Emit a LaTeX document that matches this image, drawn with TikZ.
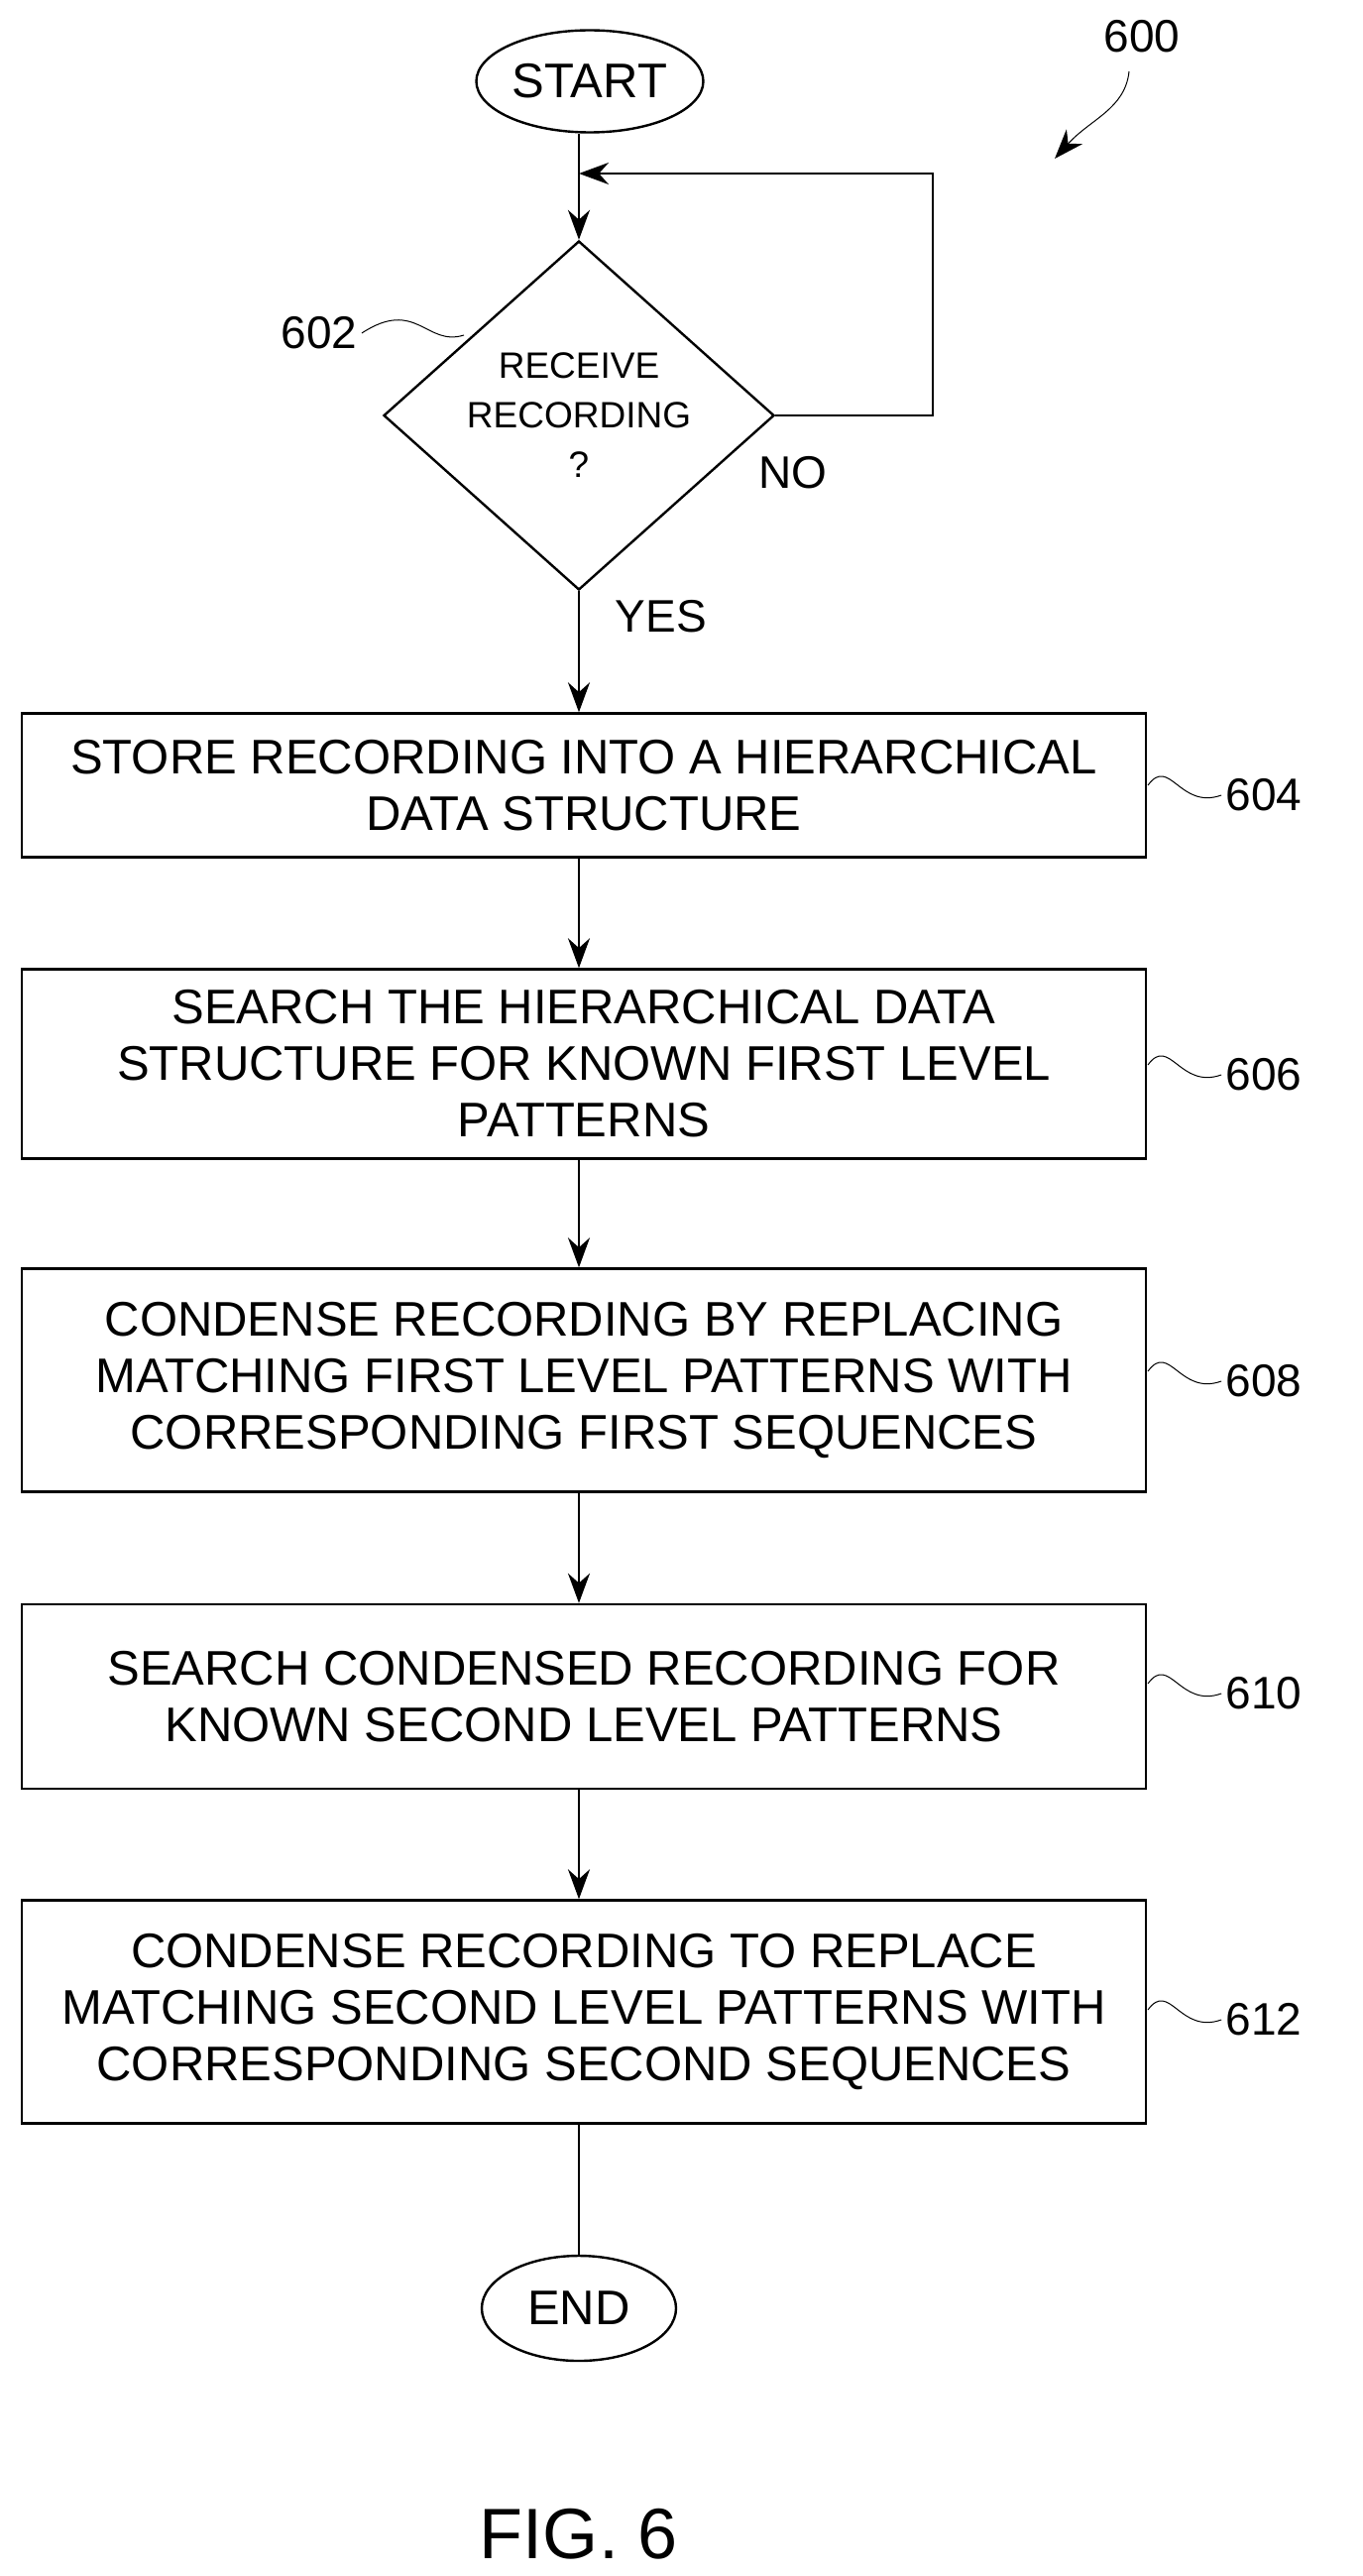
\documentclass[tikz,border=0pt]{standalone}
\usepackage{fontspec}
\setmainfont{Liberation Sans}
\usetikzlibrary{shapes.geometric,arrows.meta}
\begin{document}
\begin{tikzpicture}[x=1pt,y=-1pt,
  line width=2.4pt,
  txt/.style={font=\fontsize{49}{57}\selectfont},
  box/.style={draw,minimum width=1134pt,align=center,txt,inner sep=0pt},
  term/.style={draw,ellipse,txt,inner sep=0pt},
  arr/.style={-{Stealth[length=30pt,width=22pt]}},
  lab/.style={font=\fontsize{46}{56}\selectfont},
  sq/.style={line width=1pt}]
\useasboundingbox (0,0) rectangle (1375,2598);
\node[term,minimum width=229pt,minimum height=103pt] (start) at (595,82) {START};
\node[draw,diamond,minimum width=394pt,minimum height=352pt,align=center,inner sep=0pt,
  font=\fontsize{37}{50}\selectfont] (d) at (584,419) {RECEIVE\\RECORDING\\?};
\node[box,minimum height=145pt] (b604) at (589,792) {STORE RECORDING INTO A HIERARCHICAL\\DATA STRUCTURE};
\node[box,minimum height=191pt] (b606) at (589,1073) {SEARCH THE HIERARCHICAL DATA\\STRUCTURE FOR KNOWN FIRST LEVEL\\PATTERNS};
\node[box,minimum height=225pt] (b608) at (589,1392) {CONDENSE RECORDING BY REPLACING\\MATCHING FIRST LEVEL PATTERNS WITH\\CORRESPONDING FIRST SEQUENCES};
\node[box,minimum height=186pt] (b610) at (589,1711) {SEARCH CONDENSED RECORDING FOR\\KNOWN SECOND LEVEL PATTERNS};
\node[box,minimum height=225pt] (b612) at (589,2029) {CONDENSE RECORDING TO REPLACE\\MATCHING SECOND LEVEL PATTERNS WITH\\CORRESPONDING SECOND SEQUENCES};
\node[term,minimum width=196pt,minimum height=106pt] (end) at (584,2328) {END};
\coordinate (j) at (584,175);
\coordinate (lr) at (941,175);
\draw[arr] (start.south -| d.north) -- (d.north);
\draw[arr] (d.east) -- (d.east -| lr) -- (lr) -- (j);
\draw[arr] (d.south) -- (b604.north -| d.south);
\draw[arr] (b604.south -| d.south) -- (b606.north -| d.south);
\draw[arr] (b606.south -| d.south) -- (b608.north -| d.south);
\draw[arr] (b608.south -| d.south) -- (b610.north -| d.south);
\draw[arr] (b610.south -| d.south) -- (b612.north -| d.south);
\draw (b612.south -| d.south) -- (end.north);
\node[lab] (no) at (800,477) {NO};
\node[lab] (yes) at (667,622) {YES};
\node[lab] (l602) at (322,336) {602};
\draw[sq] (l602.east) .. controls (420,300) and (430,350) .. (468,338);
\node[lab] (l600) at (1152,37) {600};
\coordinate (a600) at (1139,72);
\draw[sq,-{Stealth[length=30pt,width=22pt]}] (a600) .. controls (1135,110) and (1100,120) .. (1064,160);
\foreach \n/\y in {604/802,606/1084,608/1393,610/1708,612/2037}{
  \node[lab] (l\n) at (1275,\y) {\n};
  \draw[sq] (1158,\y-10) .. controls (1180,\y-40) and (1190,\y+15) .. (l\n.west);
}
\node[font=\fontsize{72}{80}\selectfont] (fig) at (584,2556) {FIG. 6};
\end{tikzpicture}
\end{document}
